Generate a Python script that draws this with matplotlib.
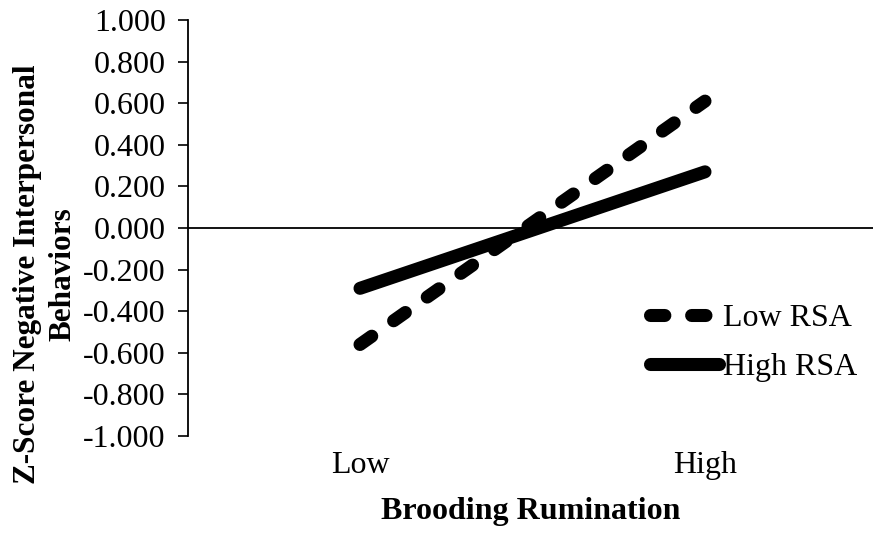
import matplotlib
matplotlib.use("Agg")
import matplotlib.pyplot as plt
import numpy as np

categories = ["Low", "High"]
low_rsa = [-0.56, 0.61]
high_rsa = [-0.29, 0.27]
series_names = ["Low RSA", "High RSA"]
yticks = [-1.0, -0.8, -0.6, -0.4, -0.2, 0.0, 0.2, 0.4, 0.6, 0.8, 1.0]

plt.rcParams['font.family'] = ['Liberation Serif', 'DejaVu Serif']

W, H = 873, 539
fig = plt.figure(figsize=(W / 100, H / 100), dpi=100)
ax = fig.add_axes([188 / W, 1 - 436 / H, (873 - 188) / W, (436 - 20) / H])

x = np.arange(len(categories))
lw = 9.4
ax.plot(x, low_rsa, color='black', lw=lw, linestyle=(0, (1.1, 2.05)),
        dash_capstyle='round', solid_capstyle='round', label=series_names[0])
ax.plot(x, high_rsa, color='black', lw=lw, solid_capstyle='round',
        label=series_names[1])

ax.axhline(0, color='black', lw=1.3, zorder=1)

ax.set_xlim(-0.4986, 1.487)
ax.set_ylim(-1.0, 1.0)
ax.set_yticks(yticks)
ax.set_yticklabels([f"{v:.3f}" for v in yticks], fontsize=23)
ax.set_xticks(x)
ax.set_xticklabels(categories, fontsize=23)
ax.tick_params(axis='x', length=0, pad=11)
ax.tick_params(axis='y', length=7, width=1.2, direction='out', pad=9)

for s in ['top', 'right', 'bottom']:
    ax.spines[s].set_visible(False)
ax.spines['left'].set_linewidth(1.3)

ax.set_xlabel("Brooding Rumination", fontsize=23, fontweight='bold', labelpad=12)
fig.text(45 / W, 1 - 274 / H, "Z-Score Negative Interpersonal\nBehaviors",
         rotation=90, ha='center', va='center', fontsize=22.5,
         fontweight='bold', linespacing=1.3)

leg = ax.legend(loc='upper left', bbox_to_anchor=(650 / W, 1 - 304 / H),
                bbox_transform=fig.transFigure, frameon=False, fontsize=23,
                handlelength=2.15, handletextpad=0.12, borderpad=0,
                borderaxespad=0, labelspacing=0.6)

fig.savefig("out.png", dpi=100)
